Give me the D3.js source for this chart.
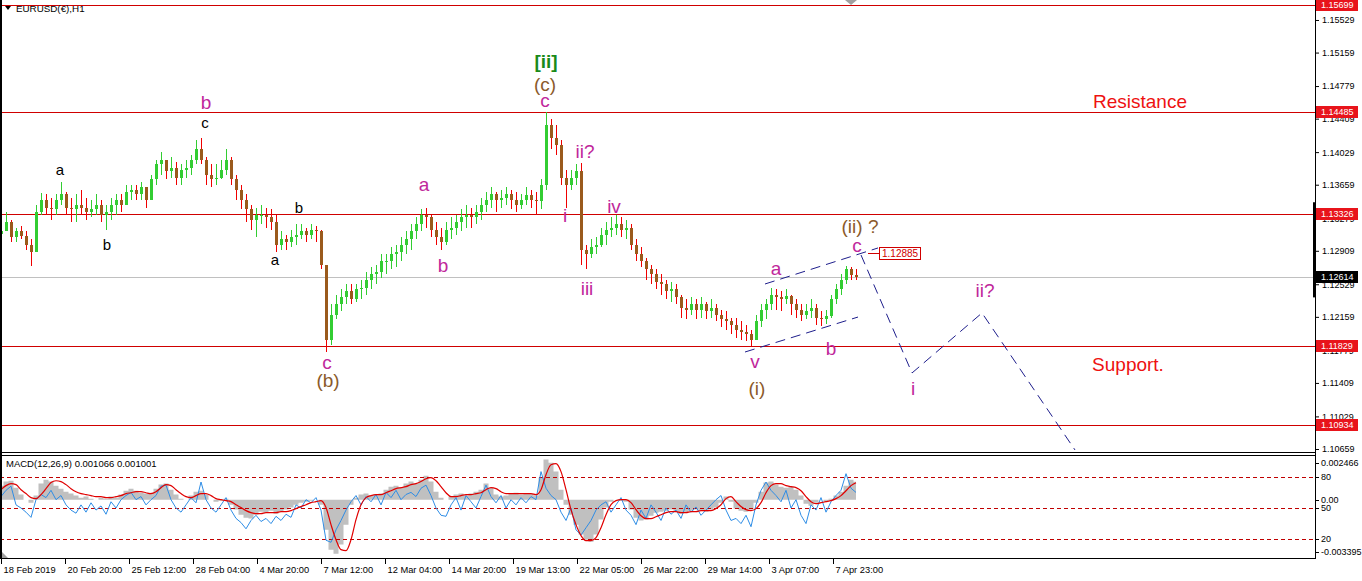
<!DOCTYPE html>
<html><head><meta charset="utf-8">
<script src="https://cdn.jsdelivr.net/npm/d3@7"></script>
<style>
body{margin:0;background:#fff;}
svg{display:block;}
text{font-family:"Liberation Sans",Arial,sans-serif;}
</style>
</head><body>
<svg id="c" width="1362" height="581"></svg>
<script>
// ---------------- DATA ----------------
const symbolTitle = "EURUSD(€),H1";
const macdTitle = "MACD(12,26,9) 0.001066 0.001001";
const barHours = 5;            // each drawn bar summarises 5 hourly bars
const firstOpen = 1.1310;

const highs = [
1.1324,1.1335,1.1326,1.1317,1.1319,1.1313,1.1304,1.1343,1.1357,1.1355,
1.1351,1.1355,1.1369,1.1358,1.1351,1.1355,1.1360,1.1351,1.1349,1.1355,
1.1349,1.1343,1.1351,1.1355,1.1355,1.1366,1.1366,1.1366,1.1369,1.1360,
1.1377,1.1394,1.1403,1.1394,1.1397,1.1392,1.1389,1.1394,1.1400,1.1417,
1.1419,1.1397,1.1389,1.1389,1.1394,1.1406,1.1397,1.1377,1.1366,1.1355,
1.1343,1.1340,1.1343,1.1340,1.1338,1.1332,1.1313,1.1309,1.1315,1.1321,
1.1321,1.1317,1.1321,1.1319,1.1315,1.1275,1.1230,1.1241,1.1247,1.1253,
1.1253,1.1253,1.1258,1.1267,1.1272,1.1275,1.1287,1.1287,1.1295,1.1298,
1.1306,1.1313,1.1321,1.1329,1.1338,1.1340,1.1332,1.1324,1.1317,1.1324,
1.1329,1.1332,1.1338,1.1343,1.1340,1.1343,1.1351,1.1358,1.1363,1.1358,
1.1360,1.1363,1.1360,1.1358,1.1355,1.1363,1.1360,1.1358,1.1372,1.1448,
1.1440,1.1434,1.1417,1.1383,1.1383,1.1389,1.1391,1.1298,1.1304,1.1306,
1.1317,1.1324,1.1329,1.1332,1.1329,1.1326,1.1321,1.1304,1.1295,1.1283,
1.1275,1.1270,1.1264,1.1258,1.1256,1.1253,1.1241,1.1236,1.1238,1.1236,
1.1238,1.1233,1.1236,1.1230,1.1224,1.1222,1.1215,1.1215,1.1211,1.1207,
1.1201,1.1218,1.1230,1.1236,1.1249,1.1247,1.1245,1.1247,1.1241,1.1236,
1.1230,1.1230,1.1236,1.1230,1.1222,1.1224,1.1241,1.1253,1.1264,1.1274,
1.1272,1.1270];
const lows = [
1.1304,1.1313,1.1301,1.1301,1.1304,1.1292,1.1274,1.1292,1.1332,1.1332,
1.1326,1.1332,1.1343,1.1332,1.1324,1.1324,1.1332,1.1326,1.1329,1.1332,
1.1324,1.1315,1.1326,1.1332,1.1335,1.1343,1.1349,1.1349,1.1349,1.1340,
1.1349,1.1366,1.1377,1.1372,1.1374,1.1366,1.1366,1.1374,1.1377,1.1389,
1.1389,1.1366,1.1363,1.1366,1.1372,1.1377,1.1366,1.1349,1.1338,1.1324,
1.1315,1.1307,1.1321,1.1317,1.1315,1.1290,1.1292,1.1292,1.1295,1.1298,
1.1304,1.1301,1.1304,1.1301,1.1270,1.1176,1.1184,1.1213,1.1222,1.1230,
1.1230,1.1233,1.1236,1.1241,1.1247,1.1253,1.1260,1.1264,1.1270,1.1272,
1.1279,1.1287,1.1292,1.1304,1.1313,1.1317,1.1306,1.1298,1.1292,1.1298,
1.1304,1.1309,1.1313,1.1317,1.1317,1.1321,1.1326,1.1335,1.1340,1.1335,
1.1340,1.1343,1.1338,1.1335,1.1338,1.1343,1.1340,1.1332,1.1338,1.1360,
1.1406,1.1400,1.1366,1.1340,1.1360,1.1366,1.1275,1.1270,1.1283,1.1287,
1.1295,1.1298,1.1306,1.1309,1.1306,1.1304,1.1292,1.1279,1.1272,1.1258,
1.1253,1.1247,1.1241,1.1236,1.1233,1.1230,1.1215,1.1213,1.1218,1.1213,
1.1215,1.1213,1.1215,1.1211,1.1204,1.1201,1.1196,1.1192,1.1190,1.1188,
1.1183,1.1190,1.1204,1.1213,1.1224,1.1224,1.1222,1.1230,1.1218,1.1215,
1.1211,1.1213,1.1215,1.1207,1.1206,1.1208,1.1215,1.1230,1.1241,1.1253,
1.1258,1.1258];
const closes = [
1.1313,1.1324,1.1306,1.1313,1.1308,1.1297,1.1290,1.1335,1.1349,1.1340,
1.1338,1.1349,1.1355,1.1340,1.1338,1.1343,1.1340,1.1335,1.1338,1.1343,
1.1332,1.1335,1.1343,1.1349,1.1343,1.1358,1.1360,1.1355,1.1363,1.1349,
1.1372,1.1389,1.1394,1.1381,1.1385,1.1374,1.1383,1.1385,1.1394,1.1406,
1.1394,1.1377,1.1372,1.1374,1.1383,1.1394,1.1372,1.1360,1.1349,1.1338,
1.1326,1.1332,1.1332,1.1329,1.1324,1.1298,1.1304,1.1301,1.1306,1.1309,
1.1313,1.1309,1.1315,1.1313,1.1275,1.1190,1.1218,1.1230,1.1238,1.1245,
1.1236,1.1247,1.1249,1.1258,1.1264,1.1267,1.1279,1.1279,1.1287,1.1290,
1.1298,1.1304,1.1313,1.1321,1.1332,1.1329,1.1315,1.1306,1.1301,1.1315,
1.1317,1.1324,1.1329,1.1332,1.1329,1.1335,1.1343,1.1349,1.1355,1.1349,
1.1351,1.1355,1.1349,1.1343,1.1349,1.1354,1.1349,1.1347,1.1366,1.1434,
1.1419,1.1411,1.1374,1.1366,1.1374,1.1381,1.1292,1.1287,1.1295,1.1298,
1.1309,1.1315,1.1317,1.1321,1.1315,1.1317,1.1298,1.1287,1.1279,1.1270,
1.1264,1.1256,1.1253,1.1245,1.1247,1.1238,1.1226,1.1224,1.1230,1.1224,
1.1230,1.1222,1.1226,1.1218,1.1213,1.1211,1.1207,1.1201,1.1199,1.1196,
1.1190,1.1211,1.1224,1.1230,1.1241,1.1238,1.1236,1.1240,1.1230,1.1224,
1.1218,1.1222,1.1226,1.1215,1.1213,1.1217,1.1236,1.1247,1.1258,1.1270,
1.1263,1.12614];

const macdHist = [
0.00083,0.00107,0.00112,0.00071,0.00030,0,-0.00018,0.00024,0.00095,0.00118,
0.00107,0.00083,0.00065,0.00047,0.00036,0.00024,0.00012,0.00018,0.00006,0,
0.00012,0.00006,0.00018,0.00012,0.00030,0.00053,0.00065,0.00053,0.00041,0.00036,
0.00041,0.00065,0.00089,0.00095,0.00059,0.00030,0.00006,0,0.00024,0.00047,
0.00053,0.00030,0,-0.00012,-0.00006,0.00006,-0.00030,-0.00059,-0.00089,-0.00107,
-0.00112,-0.00089,-0.00071,-0.00077,-0.00065,-0.00083,-0.00071,-0.00059,-0.00047,-0.00030,
-0.00018,-0.00012,-0.00006,0,-0.00030,-0.00178,-0.00296,-0.00320,-0.00266,-0.00148,
-0.00030,0.00012,0.00030,0.00036,0.00024,0.00030,0.00036,0.00059,0.00077,0.00083,
0.00071,0.00095,0.00107,0.00095,0.00118,0.00142,0.00107,0.00047,0.00012,0,
0.00018,0.00030,0.00036,0.00024,0.00036,0.00047,0.00059,0.00095,0.00071,0.00030,
0.00018,0.00024,0.00036,0.00041,0.00030,0.00036,0.00036,0.00024,0.00130,0.00237,
0.00219,0.00166,0.00059,-0.00030,-0.00089,-0.00148,-0.00207,-0.00237,-0.00249,-0.00207,
-0.00118,-0.00047,-0.00012,0,-0.00006,-0.00012,-0.00059,-0.00107,-0.00124,-0.00118,
-0.00095,-0.00077,-0.00071,-0.00065,-0.00059,-0.00071,-0.00083,-0.00077,-0.00065,-0.00059,
-0.00065,-0.00071,-0.00059,-0.00047,-0.00018,0.00018,-0.00012,-0.00053,-0.00065,-0.00071,
-0.00059,-0.00018,0.00047,0.00101,0.00107,0.00089,0.00077,0.00071,0.00077,0.00059,
0.00024,-0.00024,-0.00036,-0.00018,0,-0.00012,0.00006,0.00024,0.00047,0.00083,
0.00118,0.001066];
const macdSignal = [
0.00059,0.00083,0.00095,0.00089,0.00059,0.00036,0.00012,0.00006,0.00030,0.00065,
0.00101,0.00112,0.00107,0.00089,0.00065,0.00047,0.00036,0.00030,0.00024,0.00018,
0.00018,0.00012,0.00012,0.00018,0.00024,0.00036,0.00041,0.00047,0.00047,0.00041,
0.00036,0.00047,0.00071,0.00089,0.00083,0.00059,0.00036,0.00018,0.00012,0.00024,
0.00036,0.00036,0.00024,0.00006,0,-0.00006,-0.00012,-0.00030,-0.00047,-0.00065,
-0.00077,-0.00083,-0.00083,-0.00077,-0.00077,-0.00077,-0.00071,-0.00071,-0.00065,-0.00053,
-0.00041,-0.00030,-0.00018,-0.00012,-0.00006,-0.00047,-0.00148,-0.00237,-0.00296,-0.00302,
-0.00237,-0.00118,-0.00030,0.00012,0.00024,0.00030,0.00030,0.00041,0.00053,0.00065,
0.00071,0.00077,0.00089,0.00095,0.00107,0.00124,0.00130,0.00112,0.00077,0.00041,
0.00018,0.00018,0.00024,0.00030,0.00030,0.00036,0.00041,0.00059,0.00071,0.00065,
0.00047,0.00036,0.00036,0.00036,0.00036,0.00036,0.00036,0.00030,0.00059,0.00148,
0.00207,0.00213,0.00166,0.00059,-0.00059,-0.00148,-0.00213,-0.00243,-0.00243,-0.00225,
-0.00166,-0.00089,-0.00030,-0.00006,0,0,-0.00018,-0.00059,-0.00095,-0.00112,
-0.00112,-0.00101,-0.00089,-0.00077,-0.00071,-0.00071,-0.00077,-0.00077,-0.00071,-0.00071,
-0.00065,-0.00065,-0.00065,-0.00053,-0.00030,0.00006,0.00018,-0.00012,-0.00041,-0.00059,
-0.00065,-0.00053,-0.00018,0.00041,0.00083,0.00095,0.00095,0.00083,0.00077,0.00071,
0.00053,0.00018,-0.00012,-0.00024,-0.00018,-0.00012,-0.00006,0.00006,0.00024,0.00053,
0.00083,0.001001];
const oscillator = [
61,67,71,53,50,46,41,58,63,60,
67,58,62,53,48,45,53,46,55,48,
52,44,56,50,58,62,65,58,61,53,
58,62,71,72,58,50,46,53,60,55,
75,58,50,46,53,60,48,40,36,30,
38,43,37,40,35,42,38,44,41,53,
50,58,55,60,48,19,17,29,38,48,
56,62,53,61,56,63,53,65,60,67,
58,63,65,61,69,72,62,50,43,42,
53,60,48,62,56,50,61,72,61,55,
62,50,58,53,60,55,61,58,85,69,
62,58,46,38,50,29,24,31,38,48,
53,56,46,53,60,48,43,34,48,40,
53,46,38,50,44,48,40,53,46,51,
43,48,53,58,62,48,38,40,35,43,
32,53,67,75,67,62,56,67,50,58,
43,35,53,48,60,46,56,62,67,83,
69,65];

const priceTicks = [1.15529,1.15159,1.14779,1.14409,1.14029,1.13659,1.13279,1.12909,1.12529,1.12159,1.11779,1.11409,1.11029,1.10659];
const levelLines = [1.15699,1.14485,1.13326,1.11829,1.10934];
const lastPrice = 1.12614;
const axisMarker = [1.1238,1.1346];
const timeTickHours = [0,64,128,192,256,320,384,448,512,576,640,704,768,832];
const timeTickLabels = ["18 Feb 2019","20 Feb 20:00","25 Feb 12:00","28 Feb 04:00","4 Mar 20:00","7 Mar 12:00","12 Mar 04:00","14 Mar 20:00","19 Mar 13:00","22 Mar 05:00","26 Mar 22:00","29 Mar 14:00","3 Apr 07:00","7 Apr 23:00"];
const macdRange = [-0.003395,0.002466];
const macdLabels = ["-0.003395","0.00","0.002466"];
const oscLevels = [80,50,20];

// wave channel / projection (hour, price)
const upperChannel = [[764,1.12532],[877,1.12941]];
const lowerChannel = [[744,1.11760],[857,1.12157]];
const projection = [[860,1.12861],[911,1.11522],[981,1.12203],[1074,1.10648]];
const priceTag = {hour:878, price:1.12885, text:"1.12885"};

// annotations: text, hour, price, kind
const annotations = [
 ["a",59,1.13826,"sub"],["b",106,1.12975,"sub"],["c",204,1.14360,"sub"],
 ["a",274,1.12804,"sub"],["b",298,1.13395,"sub"],
 ["b",205,1.14598,"minute"],["c",326,1.11647,"minute"],["(b)",327,1.11442,"minor"],
 ["a",423,1.13667,"minute"],["b",442,1.12748,"minute"],
 ["[ii]",545,1.15063,"inter"],["(c)",544,1.14802,"minor"],["c",544,1.14621,"minute"],
 ["ii?",584,1.14042,"minute"],["i",564,1.13315,"minute"],["iv",613,1.13417,"minute"],
 ["iii",586,1.12487,"minute"],["v",754,1.11658,"minute"],["(i)",756,1.11351,"minor"],
 ["a",775,1.12714,"minute"],["b",830,1.11806,"minute"],
 ["(ii) ?",859,1.13190,"minor"],["c",856,1.12975,"minute"],
 ["ii?",984,1.12464,"minute"],["i",912,1.11351,"minute"],
 ["Resistance",1139,1.14609,"level"],["Support.",1127,1.11624,"level"]
];
const annoStyle = {
 sub:{color:"#000000",size:15,weight:"normal"},
 minute:{color:"#C0279B",size:19,weight:"normal"},
 minor:{color:"#8B5A2B",size:19,weight:"normal"},
 inter:{color:"#1A8A1A",size:19,weight:"bold"},
 level:{color:"#EE1111",size:19,weight:"normal"}
};

// ---------------- DRAW ----------------
const svg = d3.select("#c");
const axisX = 1315, mainBottom = 452, macdTop = 455, macdBottom = 558;
const xs = d3.scaleLinear().domain([0,1314]).range([1,1315]);
const y = d3.scaleLinear().domain([1.10659,1.15699]).range([449,5]);
const ym = d3.scaleLinear().domain(macdRange).range([557,458]);
const yo = d3.scaleLinear().domain([0,100]).range([560,456]);

const defs = svg.append("defs");
defs.append("clipPath").attr("id","mainClip").append("rect").attr("x",2).attr("y",0).attr("width",axisX-2).attr("height",mainBottom);
defs.append("clipPath").attr("id","macdClip").append("rect").attr("x",2).attr("y",macdTop+1).attr("width",axisX-2).attr("height",macdBottom-macdTop-1);

const main = svg.append("g").attr("clip-path","url(#mainClip)");
const macdG = svg.append("g").attr("clip-path","url(#macdClip)");

// level lines
main.append("line").attr("x1",0).attr("x2",axisX).attr("y1",Math.round(y(lastPrice))+0.5).attr("y2",Math.round(y(lastPrice))+0.5).attr("stroke","#C0C0C0");
main.selectAll("line.lvl").data(levelLines).join("line").attr("class","lvl")
 .attr("x1",0).attr("x2",axisX).attr("y1",d=>Math.round(y(d))+0.5).attr("y2",d=>Math.round(y(d))+0.5)
 .attr("stroke","#D00000").attr("stroke-width",1);

// candles
const bars = closes.map((c,i)=>({t:i*barHours,o:i?closes[i-1]:firstOpen,h:highs[i],l:lows[i],c}));
const cg = main.append("g").attr("shape-rendering","crispEdges");
bars.forEach(b=>{
  const up = b.c>=b.o;
  const x = Math.round(xs(b.t));
  const hi = Math.max(b.h,b.o,b.c), lo = Math.min(b.l,b.o,b.c);
  cg.append("line").attr("x1",x+0.5).attr("x2",x+0.5).attr("y1",y(hi)).attr("y2",y(lo))
    .attr("stroke",up?"#32CD32":"#F00000");
  const yt = y(Math.max(b.o,b.c)), yb = y(Math.min(b.o,b.c));
  cg.append("rect").attr("x",x-1).attr("width",3).attr("y",yt).attr("height",Math.max(1,yb-yt))
    .attr("fill",up?"#32CD32":"#9A5A1C");
});

// channel & projection
const line = d3.line().x(d=>xs(d[0])).y(d=>y(d[1]));
[upperChannel,lowerChannel,projection].forEach(p=>{
  main.append("path").attr("d",line(p)).attr("fill","none").attr("stroke","#1E1E8C")
   .attr("stroke-width",1).attr("stroke-dasharray","10,6");
});
// price tag
const tx = xs(priceTag.hour), ty = Math.round(y(priceTag.price))+0.5;
main.append("line").attr("x1",tx-11).attr("x2",tx).attr("y1",ty).attr("y2",ty).attr("stroke","#D00000");
main.append("rect").attr("x",Math.round(tx)+0.5).attr("y",ty-6).attr("width",41).attr("height",12)
  .attr("fill","#fff").attr("stroke","#D00000");
main.append("text").attr("x",tx+3).attr("y",ty).attr("dy","0.35em").attr("font-size",10)
  .attr("fill","#D00000").text(priceTag.text);

// annotations
main.selectAll("text.anno").data(annotations).join("text").attr("class","anno")
 .attr("x",d=>xs(d[1])).attr("y",d=>y(d[2])).attr("dy","0.35em").attr("text-anchor","middle")
 .attr("fill",d=>annoStyle[d[3]].color).attr("font-size",d=>annoStyle[d[3]].size)
 .attr("font-weight",d=>annoStyle[d[3]].weight).text(d=>d[0]);

// MACD panel
const z = ym(0);
macdG.append("path")
 .attr("d",d3.area().curve(d3.curveStep).x((d,i)=>xs(i*barHours)).y0(z).y1(d=>ym(d))(macdHist))
 .attr("fill","#C0C0C0");
macdG.selectAll("line.ol").data(oscLevels).join("line").attr("class","ol")
 .attr("x1",0).attr("x2",axisX).attr("y1",d=>Math.round(yo(d))+0.5).attr("y2",d=>Math.round(yo(d))+0.5)
 .attr("stroke","#C00000").attr("stroke-dasharray","4,3");
macdG.append("path").attr("d",d3.line().x((d,i)=>xs(i*barHours)).y(d=>yo(d))(oscillator))
 .attr("fill","none").attr("stroke","#2E8DE6").attr("stroke-width",1);
macdG.append("path").attr("d",d3.line().curve(d3.curveMonotoneX).x((d,i)=>xs(i*barHours)).y(d=>ym(d))(macdSignal))
 .attr("fill","none").attr("stroke","#E00000").attr("stroke-width",1.2);
svg.append("text").attr("x",6).attr("y",467).attr("font-size",9.5).attr("fill","#000").text(macdTitle);

// frames
const fr = svg.append("g").attr("stroke","#000").attr("shape-rendering","crispEdges");
fr.append("line").attr("x1",1).attr("x2",1).attr("y1",0).attr("y2",macdBottom).attr("stroke-width",2);
fr.append("line").attr("x1",axisX+0.5).attr("x2",axisX+0.5).attr("y1",0).attr("y2",macdBottom+1);
[mainBottom,macdTop,macdBottom].forEach(v=>fr.append("line").attr("x1",0).attr("x2",axisX).attr("y1",v+0.5).attr("y2",v+0.5));

// price axis
const pa = svg.append("g").attr("transform",`translate(${axisX},0)`)
  .call(d3.axisRight(y).tickValues(priceTicks).tickSize(4).tickPadding(3).tickFormat(d3.format(".5f")));
pa.select(".domain").remove();
pa.selectAll("text").attr("font-size",9).attr("font-family","Liberation Sans, Arial").attr("fill","#000");
pa.selectAll("line").attr("stroke","#000");
// axis marker
svg.append("rect").attr("x",axisX-2).attr("y",y(axisMarker[1])).attr("width",3)
  .attr("height",y(axisMarker[0])-y(axisMarker[1])).attr("fill","#000");
// level tags (drawn over the tick labels they cover, as in the terminal)
levelLines.forEach(v=>{
  const yy=Math.round(y(v));
  svg.append("rect").attr("x",axisX+1).attr("y",yy-6).attr("width",42).attr("height",12).attr("fill","#E8141B");
  svg.append("text").attr("x",axisX+6).attr("y",yy).attr("dy","0.35em").attr("font-size",9).attr("fill","#fff").text(d3.format(".5f")(v));
});
{
  const yy=Math.round(y(lastPrice));
  svg.append("rect").attr("x",axisX+1).attr("y",yy-6).attr("width",42).attr("height",12).attr("fill","#000");
  svg.append("text").attr("x",axisX+6).attr("y",yy).attr("dy","0.35em").attr("font-size",9).attr("fill","#fff").text(d3.format(".5f")(lastPrice));
}
// macd axis labels
const mLab = [
 {t:macdLabels[2], y:ym(macdRange[1])+5},
 {t:oscLevels[0]+"", y:yo(oscLevels[0])},
 {t:macdLabels[1], y:ym(0)},
 {t:oscLevels[1]+"", y:yo(oscLevels[1])},
 {t:oscLevels[2]+"", y:yo(oscLevels[2])},
 {t:macdLabels[0], y:ym(macdRange[0])-5}
];
mLab.forEach(d=>{
  svg.append("line").attr("x1",axisX).attr("x2",axisX+4).attr("y1",Math.round(d.y)+0.5).attr("y2",Math.round(d.y)+0.5).attr("stroke","#000");
  svg.append("text").attr("x",axisX+6).attr("y",d.y).attr("dy","0.35em").attr("font-size",9).attr("fill","#000").text(d.t);
});

// time axis
const ta = svg.append("g").attr("transform",`translate(0,${macdBottom+1})`)
  .call(d3.axisBottom(xs).tickValues(timeTickHours).tickSize(5).tickFormat((d,i)=>timeTickLabels[i]));
ta.select(".domain").remove();
ta.selectAll("line").attr("stroke","#000");
ta.selectAll("text").attr("font-size",9.3).attr("font-family","Liberation Sans, Arial").attr("text-anchor","start")
  .attr("dx",2).attr("y",7).attr("dy","0.71em").attr("fill","#000");

// title & markers
svg.append("path").attr("d","M5,6 L11,6 L8,10 Z").attr("fill","#000");
svg.append("text").attr("x",16).attr("y",12).attr("font-size",9.8).attr("fill","#000").text(symbolTitle);
svg.append("path").attr("d",`M${xs(850)-6},0 L${xs(850)+6},0 L${xs(850)},5 Z`).attr("fill","#A0A0A0");
svg.append("path").attr("d",`M2,552 L2,558 L8,558 Z`).attr("fill","#A0A0A0");
</script>
</body></html>
